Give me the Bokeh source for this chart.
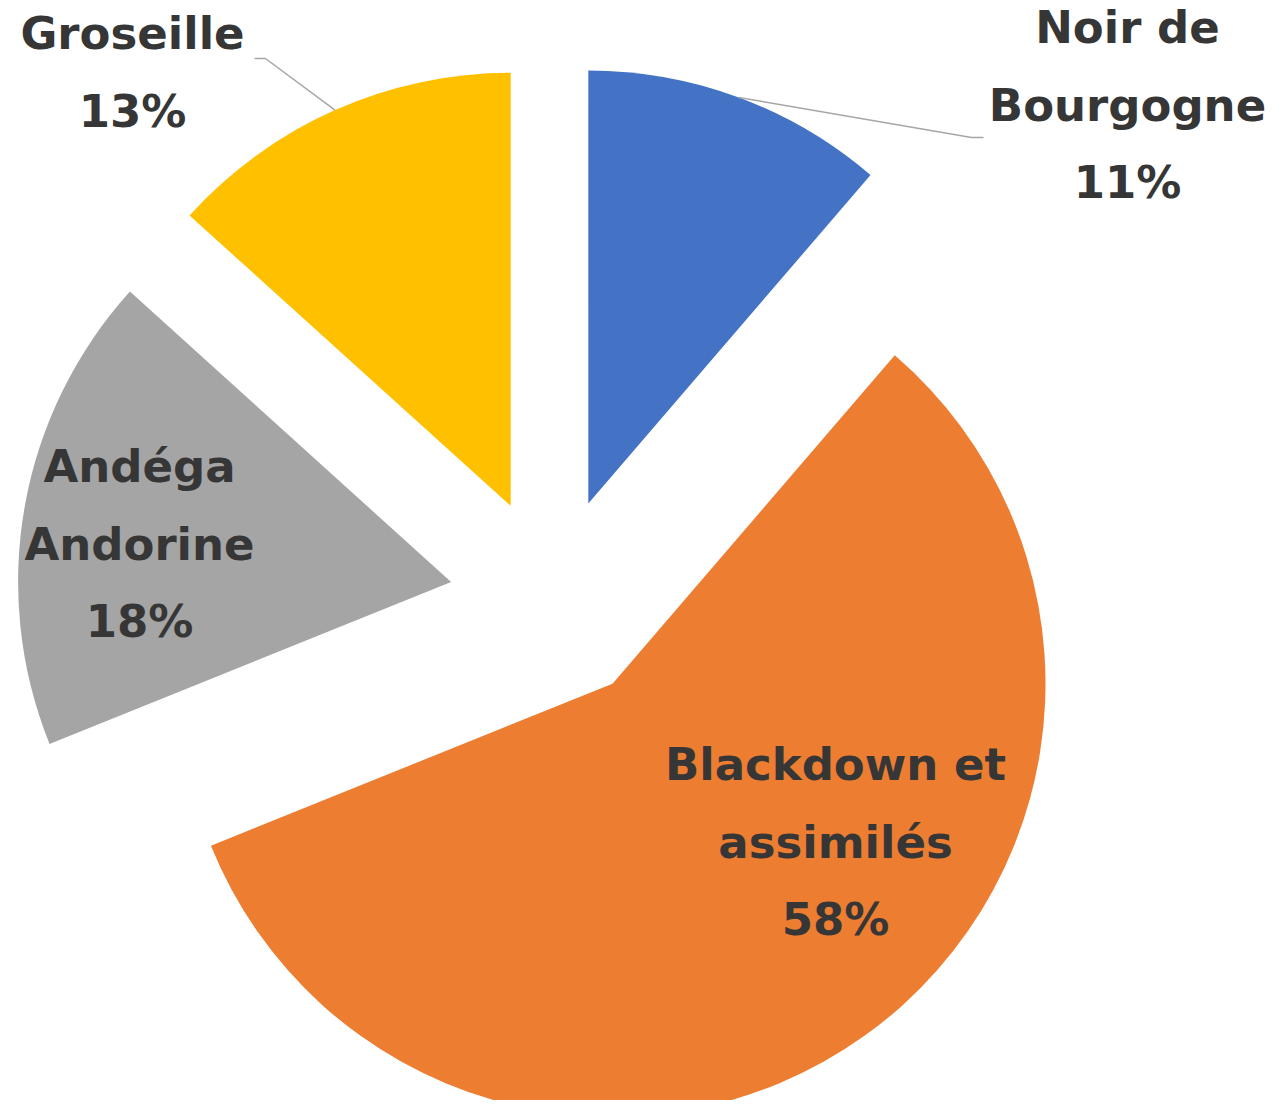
import math
from bokeh.plotting import figure
from bokeh.models import Range1d, ColumnDataSource
from bokeh.core.properties import value
from bokeh.embed import file_html
from bokeh.resources import INLINE

# ---- data ----
categories = ["Noir de\nBourgogne", "Blackdown et\nassimilés", "Andéga\nAndorine", "Groseille"]
shares = [11.3, 57.6, 17.8, 13.3]
colors = ["#4472C4", "#ED7D31", "#A5A5A5", "#FFC000"]

# ---- layout (pixel coordinates, y downward) ----
W, H = 1267, 1100
CX, CY = 552, 599.5     # pie centre
R = 433                 # radius
EXPLODE = 103           # explosion distance
TEXT_COLOR = "#363636"
FONT = "DejaVu Sans"
FONT_SIZE = "45px"
LINE_STEP = 77.5
BASE_SHIFT = -19
label_anchor = [(1127, 46), (835, 783), (139, 485), (132, 52)]   # centre x, first baseline y
leader_tail = [[(971, 137), (983, 137)], None, None, [(265, 58), (254, 58)]]


def sy(y):
    return H - y


p = figure(width=W, height=H, output_backend="svg", toolbar_location=None,
           x_range=Range1d(0, W), y_range=Range1d(0, H), min_border=0)
p.axis.visible = False
p.xgrid.visible = False
p.ygrid.visible = False
p.outline_line_color = None
p.background_fill_color = "white"
p.border_fill_color = "white"

total = sum(shares)
cum = 0.0
wx, wy, sa, ea, apex = [], [], [], [], []
for v in shares:
    t1 = cum / total * 360.0
    cum += v
    t2 = cum / total * 360.0
    mid = math.radians((t1 + t2) / 2)
    ax = CX + EXPLODE * math.sin(mid)
    ay = CY - EXPLODE * math.cos(mid)
    apex.append((ax, ay, mid))
    wx.append(ax)
    wy.append(sy(ay))
    sa.append(90 - t1)
    ea.append(90 - t2)

src = ColumnDataSource(dict(x=wx, y=wy, start=sa, end=ea, color=colors))
p.wedge(x="x", y="y", radius=R, start_angle="start", end_angle="end",
        start_angle_units="deg", end_angle_units="deg", direction="clock",
        fill_color="color", line_color=None, source=src)

# leader lines
for i, tail in enumerate(leader_tail):
    if tail is None:
        continue
    ax, ay, mid = apex[i]
    sx0 = ax + R * math.sin(mid)
    sy0 = ay - R * math.cos(mid)
    xs = [sx0] + [pt[0] for pt in tail]
    ys = [sy(sy0)] + [sy(pt[1]) for pt in tail]
    p.line(xs, ys, line_color="#A6A6A6", line_width=1.5)

# labels
tx, ty, tt = [], [], []
for i, name in enumerate(categories):
    pct = round(shares[i] / total * 100)
    lines = name.split("\n") + [f"{pct}%"]
    x0, y0 = label_anchor[i]
    for k, ln in enumerate(lines):
        tx.append(x0)
        ty.append(sy(y0 + BASE_SHIFT + k * LINE_STEP))
        tt.append(ln)

p.text(x=tx, y=ty, text=tt, text_font=value(FONT), text_font_style="bold",
       text_font_size=FONT_SIZE, text_align="center", text_baseline="alphabetic",
       text_color=TEXT_COLOR)

open("out.html", "w").write(file_html(p, INLINE))
